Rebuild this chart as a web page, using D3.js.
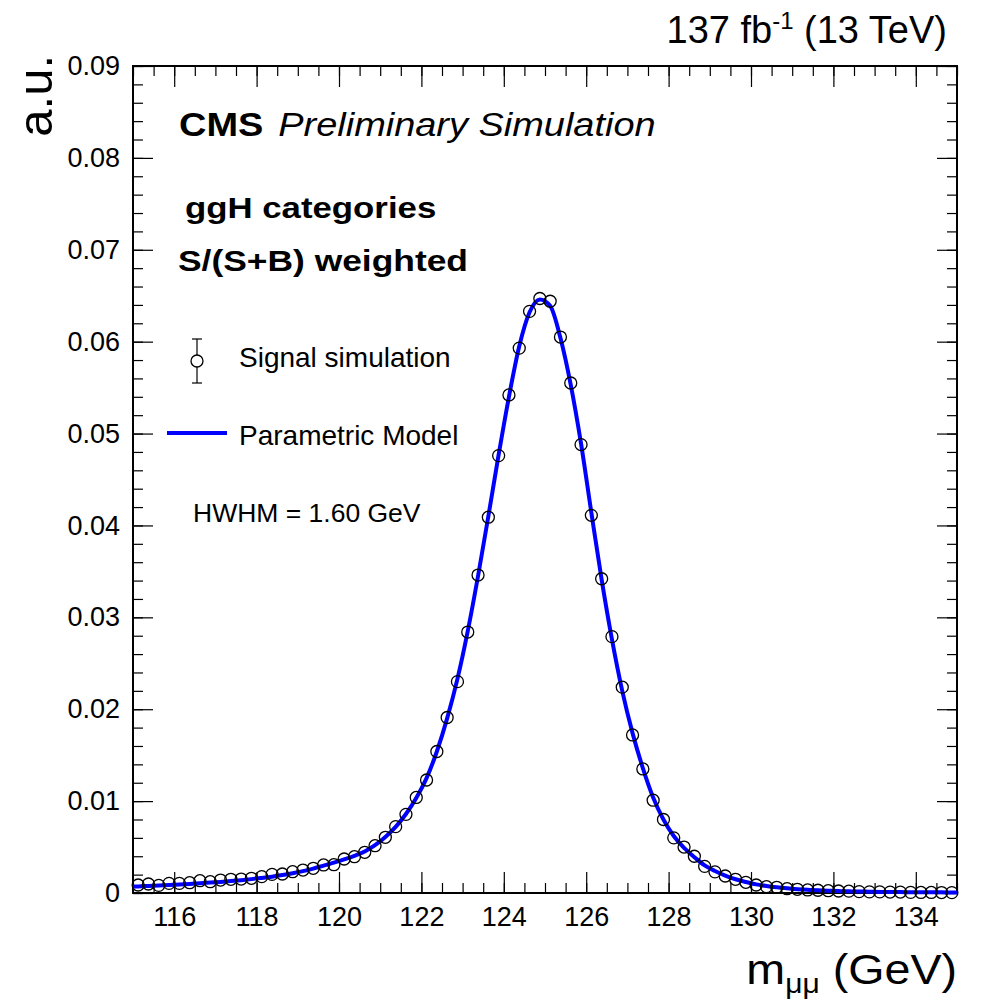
<!DOCTYPE html>
<html>
<head>
<meta charset="utf-8">
<script src="https://cdn.jsdelivr.net/npm/d3@7"></script>
<style>
  body { margin: 0; background: #fff; }
  svg text { font-family: "Liberation Sans", Arial, Helvetica, sans-serif; fill: #000; }
</style>
</head>
<body>
<div id="figure_div"></div>
<script>
// bin centres of the signal simulation histogram (0.25 GeV bins)
var binLow = 115, binWidth = 0.25;
var simValues = [
    0.00087, 0.00098, 0.00083, 0.00105, 0.00105, 0.00112, 0.00134, 0.00123, 0.00141, 0.00149,
    0.00152, 0.00160, 0.00178, 0.00203, 0.00207, 0.00232, 0.00250, 0.00269, 0.00305, 0.00308,
    0.00370, 0.00395, 0.00443, 0.00515, 0.00606, 0.00722, 0.00856, 0.0104, 0.0123, 0.0154,
    0.0191, 0.0230, 0.0284, 0.0346, 0.0409, 0.0476, 0.0542, 0.0593, 0.0633, 0.0647,
    0.0644, 0.0605, 0.0555, 0.0488, 0.0411, 0.0342, 0.0279, 0.0224, 0.0172, 0.0135,
    0.0101, 0.0080, 0.0060, 0.0050, 0.0040, 0.0029, 0.0023, 0.00185, 0.00149, 0.00116,
    0.00087, 0.00069, 0.00062, 0.00047, 0.00040, 0.00033, 0.00030, 0.00025, 0.00022, 0.00020,
    0.00015, 0.00012, 0.00012, 0.00010, 0.00010, 0.00007, 0.00006, 0.00006, 0.00005, 0.00004
];

// parametric model
var modelMass = [115, 115.125, 115.375, 115.625, 115.875, 116.125, 116.375, 116.625, 116.875, 117.125, 117.375,
    117.625, 117.875, 118.125, 118.375, 118.625, 118.875, 119.125, 119.375, 119.625, 119.875,
    120.125, 120.375, 120.625, 120.875, 121.125, 121.375, 121.625, 121.875, 122.125, 122.375,
    122.625, 122.875, 123.125, 123.375, 123.625, 123.875, 124.125, 124.375, 124.625, 124.875,
    125.125, 125.375, 125.625, 125.875, 126.125, 126.375, 126.625, 126.875, 127.125, 127.375,
    127.625, 127.875, 128.125, 128.375, 128.625, 128.875, 129.125, 129.375, 129.625, 129.875,
    130.125, 130.375, 130.625, 130.875, 131.125, 131.375, 131.625, 131.875, 132.125, 132.375,
    132.625, 132.875, 133.125, 133.375, 133.625, 133.875, 134.125, 134.375, 134.625, 134.875, 135];
var modelValues = [0.00070, 0.00072, 0.00077, 0.00082, 0.00087, 0.00093, 0.00099, 0.00106, 0.00113, 0.00121, 0.00130,
    0.00140, 0.00151, 0.00164, 0.00178, 0.00195, 0.00215, 0.00238, 0.00265, 0.00298, 0.00330,
    0.00365, 0.00405, 0.00452, 0.00520, 0.00610, 0.00720, 0.00860, 0.01035, 0.0125, 0.0154,
    0.0190, 0.0233, 0.0285, 0.0345, 0.0410, 0.0477, 0.0540, 0.0595, 0.0632, 0.0646,
    0.0639, 0.0604, 0.0553, 0.0489, 0.0414, 0.0341, 0.0276, 0.0220, 0.0174, 0.0136,
    0.0104, 0.0080, 0.0062, 0.0049, 0.0039, 0.0030, 0.0024, 0.0019, 0.0015, 0.0012,
    0.00094, 0.00076, 0.00062, 0.00051, 0.00042, 0.00035, 0.00029, 0.00025, 0.00021, 0.00018,
    0.00016, 0.00014, 0.00012, 0.00011, 0.00010, 0.00009, 0.00008, 0.00007, 0.00007, 0.00006, 0.00006];

var xMajorTicks = [116, 118, 120, 122, 124, 126, 128, 130, 132, 134];
var yMajorTicks = [0, 0.01, 0.02, 0.03, 0.04, 0.05, 0.06, 0.07, 0.08, 0.09];
var xMinorTicks = d3.range(0, 41).map(function(i) { return 115 + i * 0.5; });
var yMinorTicks = d3.range(0, 46).map(function(i) { return i * 0.002; });

function figure_signal_shape() {
    var width = 985, height = 1003;
    var plot = { left: 133, right: 957, top: 66, bottom: 893 };

    var svg = d3.select('#figure_div')
        .append('svg')
        .attr('width', width)
        .attr('height', height);

    var x = d3.scaleLinear().domain([115, 135]).range([plot.left, plot.right]);
    var y = d3.scaleLinear().domain([0, 0.09]).range([plot.bottom, plot.top]);

    var yFormat = function(d) { return d === 0 ? '0' : d3.format('.2f')(d); };

    // ticks, all pointing inward
    function tickAxis(axisFn, scale, values, size, fmt, pos) {
        var ax = axisFn(scale).tickValues(values).tickSizeInner(-size).tickSizeOuter(0)
            .tickPadding(12).tickFormat(fmt);
        var g = svg.append('g').attr('transform', pos).call(ax);
        g.select('.domain').remove();
        g.selectAll('.tick line').attr('stroke', '#000').attr('stroke-width', 1.2);
        return g;
    }
    var nolabel = function() { return ''; };
    tickAxis(d3.axisBottom, x, xMinorTicks, 10, nolabel, `translate(0,${plot.bottom})`);
    tickAxis(d3.axisTop, x, xMinorTicks, 10, nolabel, `translate(0,${plot.top})`);
    tickAxis(d3.axisTop, x, xMajorTicks, 21, nolabel, `translate(0,${plot.top})`);
    tickAxis(d3.axisLeft, y, yMinorTicks, 10, nolabel, `translate(${plot.left},0)`);
    tickAxis(d3.axisRight, y, yMinorTicks, 10, nolabel, `translate(${plot.right},0)`);
    tickAxis(d3.axisRight, y, yMajorTicks, 20, nolabel, `translate(${plot.right},0)`);

    var xAxis = tickAxis(d3.axisBottom, x, xMajorTicks, 21, d3.format('d'), `translate(0,${plot.bottom})`);
    xAxis.selectAll('.tick text').style('font-size', '27px').attr('dy', '0.75em').attr('y', 13);

    var yAxis = tickAxis(d3.axisLeft, y, yMajorTicks, 20, yFormat, `translate(${plot.left},0)`);
    yAxis.selectAll('.tick text').style('font-size', '27px').attr('x', -13);

    // frame
    svg.append('rect')
        .attr('x', plot.left).attr('y', plot.top)
        .attr('width', plot.right - plot.left).attr('height', plot.bottom - plot.top)
        .attr('fill', 'none').attr('stroke', '#000').attr('stroke-width', 2);

    // model curve
    var line = d3.line()
        .x(function(d) { return x(d[0]); })
        .y(function(d) { return y(d[1]); })
        .curve(d3.curveMonotoneX);
    svg.append('path')
        .datum(d3.zip(modelMass, modelValues))
        .attr('d', line)
        .attr('fill', 'none')
        .attr('stroke', '#0000ff')
        .attr('stroke-width', 4);

    // simulation points
    svg.append('g')
        .selectAll('circle')
        .data(simValues)
        .enter()
        .append('circle')
        .attr('cx', function(d, i) { return x(binLow + (i + 0.5) * binWidth); })
        .attr('cy', function(d) { return y(d); })
        .attr('r', 6)
        .attr('fill', 'none')
        .attr('stroke', '#000')
        .attr('stroke-width', 1.3);

    // legend
    var legend = svg.append('g');
    legend.append('line').attr('x1', 197).attr('x2', 197).attr('y1', 339).attr('y2', 383)
        .attr('stroke', '#000').attr('stroke-width', 1.2);
    legend.selectAll('.cap').data([339, 383]).enter().append('line')
        .attr('x1', 192).attr('x2', 202).attr('y1', function(d) { return d; }).attr('y2', function(d) { return d; })
        .attr('stroke', '#000').attr('stroke-width', 1.2);
    legend.append('circle').attr('cx', 197).attr('cy', 361).attr('r', 6)
        .attr('fill', '#fff').attr('stroke', '#000').attr('stroke-width', 1.3);
    legend.append('text').attr('x', 239).attr('y', 367).style('font-size', '28px').text('Signal simulation');
    legend.append('line').attr('x1', 167).attr('x2', 227).attr('y1', 433).attr('y2', 433)
        .attr('stroke', '#0000ff').attr('stroke-width', 4);
    legend.append('text').attr('x', 239).attr('y', 445).style('font-size', '28px').text('Parametric Model');
    legend.append('text').attr('x', 193).attr('y', 522).style('font-size', '26.5px').text('HWHM = 1.60 GeV');

    // CMS labels (the reference glyphs are a bit wider than Liberation Sans)
    var cms = svg.append('g').attr('transform', 'translate(179,136) scale(1.15,1)')
        .append('text').style('font-size', '33px');
    cms.append('tspan').style('font-weight', 700).text('CMS');
    cms.append('tspan').attr('dx', 13).style('font-style', 'italic').text('Preliminary Simulation');

    svg.append('g').attr('transform', 'translate(185,218) scale(1.16,1)')
        .append('text').style('font-size', '30px').style('font-weight', 700)
        .text('ggH categories');
    svg.append('g').attr('transform', 'translate(178,271) scale(1.18,1)')
        .append('text').style('font-size', '30px').style('font-weight', 700)
        .text('S/(S+B) weighted');

    // lumi label
    var lumi = svg.append('text').attr('x', 947).attr('y', 43).attr('text-anchor', 'end').style('font-size', '38px');
    lumi.append('tspan').text('137 fb');
    lumi.append('tspan').attr('dy', -14).style('font-size', '24px').text('-1');
    lumi.append('tspan').attr('dy', 14).text(' (13 TeV)');

    // axis titles
    var xt = svg.append('g').attr('transform', `translate(${plot.right},984) scale(1.11,1)`)
        .append('text').attr('text-anchor', 'end').style('font-size', '42px');
    xt.append('tspan').text('m');
    xt.append('tspan').attr('dy', 9).style('font-size', '27px').text('μμ');
    xt.append('tspan').attr('dy', -9).text(' (GeV)');

    svg.append('text')
        .attr('transform', 'translate(52,55) rotate(-90)')
        .attr('text-anchor', 'end')
        .style('font-size', '49px')
        .text('a.u.');
}

figure_signal_shape();
</script>
</body>
</html>
